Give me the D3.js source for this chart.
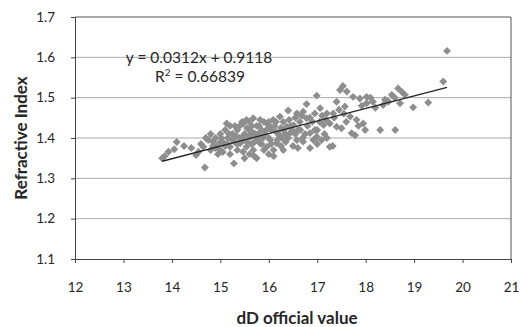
<!DOCTYPE html>
<html>
<head>
<meta charset="utf-8">
<script src="https://cdn.jsdelivr.net/npm/d3@7"></script>
<style>
  body { margin: 0; background: #fff; }
  text { font-family: Lato, "Open Sans", sans-serif; fill: #262626; }
</style>
</head>
<body>
<svg id="chart" width="520" height="327"></svg>
<script>
// dD official value (x) vs refractive index (y)
var xVals = [13.80,13.85,13.93,14.05,14.10,14.25,14.40,14.50,14.55,14.60,14.65,14.68,14.75,14.80,14.85,14.90,14.93,14.95,15.00,15.00,
  15.05,15.10,15.10,15.13,15.15,15.20,15.20,15.25,15.28,15.30,15.30,15.35,15.35,15.40,15.41,15.45,15.47,15.47,15.50,15.50,
  15.54,15.54,15.55,15.60,15.60,15.62,15.65,15.68,15.68,15.70,15.72,15.75,15.75,15.80,15.82,15.82,15.85,15.90,15.90,15.92,
  15.96,15.96,16.00,16.00,16.03,16.05,16.09,16.10,16.12,16.16,16.20,16.23,16.23,16.25,16.30,16.30,16.35,16.37,16.40,16.40,
  16.44,16.50,16.51,16.55,16.58,16.58,16.60,16.64,16.70,16.71,16.71,16.78,16.78,16.80,16.85,16.90,16.95,16.99,16.99,17.00,
  17.06,17.09,17.13,17.20,17.26,17.26,17.32,17.33,17.40,17.40,17.47,17.50,17.53,17.57,17.61,17.68,17.71,17.74,17.78,17.81,
  17.88,17.95,17.99,18.02,18.02,18.15,18.30,18.36,18.47,18.54,18.61,18.67,18.71,18.74,18.81,18.98,19.29,19.60,19.68,
  14.70,14.90,15.05,15.15,15.25,15.35,15.45,15.55,15.65,15.75,15.85,15.95,16.05,16.15,16.25,16.35,16.45,16.55,16.65,16.75,
  16.85,16.95,17.05,17.15,17.20,17.35,17.45,17.60,17.85,18.10,18.20,18.40,18.60,15.20,15.40,15.60,15.80,16.00,16.15,14.80,
  15.00,16.10,15.70,16.30,16.60,17.00,16.85,
  14.85,15.02,15.18,15.32,15.48,15.58,15.66,15.78,15.88,16.02,16.18,16.28,16.42,16.48,16.68,16.92,17.10,17.18,17.55,17.92];
var yVals = [1.350,1.355,1.366,1.372,1.390,1.380,1.375,1.358,1.366,1.385,1.378,1.327,1.395,1.370,1.390,1.400,1.380,1.360,1.370,1.410,
  1.390,1.380,1.420,1.436,1.400,1.378,1.360,1.410,1.337,1.390,1.430,1.370,1.420,1.400,1.387,1.440,1.366,1.436,1.350,1.410,
  1.378,1.445,1.390,1.420,1.360,1.403,1.430,1.370,1.449,1.390,1.410,1.350,1.430,1.400,1.387,1.445,1.420,1.370,1.440,1.410,
  1.378,1.436,1.360,1.400,1.395,1.420,1.445,1.370,1.430,1.387,1.410,1.403,1.453,1.380,1.420,1.440,1.390,1.428,1.468,1.400,
  1.412,1.380,1.432,1.450,1.395,1.461,1.420,1.440,1.400,1.391,1.465,1.449,1.484,1.430,1.412,1.440,1.461,1.403,1.505,1.420,
  1.474,1.395,1.432,1.461,1.378,1.436,1.380,1.461,1.490,1.428,1.519,1.424,1.529,1.478,1.515,1.453,1.412,1.502,1.407,1.445,
  1.498,1.436,1.420,1.502,1.486,1.490,1.420,1.482,1.490,1.507,1.420,1.523,1.486,1.515,1.507,1.476,1.488,1.540,1.616,
  1.400,1.375,1.365,1.385,1.395,1.385,1.400,1.425,1.385,1.395,1.385,1.420,1.385,1.415,1.425,1.410,1.430,1.410,1.420,1.410,
  1.450,1.420,1.440,1.410,1.400,1.450,1.470,1.440,1.430,1.500,1.475,1.495,1.500,1.430,1.430,1.440,1.430,1.440,1.440,1.410,
  1.390,1.355,1.355,1.370,1.375,1.385,1.375,
  1.380,1.400,1.410,1.405,1.395,1.405,1.415,1.410,1.400,1.430,1.395,1.400,1.445,1.420,1.455,1.395,1.455,1.445,1.460,1.480];
var xTicks = [12,13,14,15,16,17,18,19,20,21];
var yTicks = [1.1,1.2,1.3,1.4,1.5,1.6,1.7];
var trendSlope = 0.0312, trendIntercept = 0.9118;
var eqText = "y = 0.0312x + 0.9118";
var r2Text = "0.66839";

var svg = d3.select("#chart"),
  margin = {top: 17, right: 9, bottom: 68, left: 75},
  width = +svg.attr("width") - margin.left - margin.right,
  height = +svg.attr("height") - margin.top - margin.bottom;

var x = d3.scaleLinear().domain([12, 21]).range([0, width]);
var y = d3.scaleLinear().domain([1.1, 1.7]).range([height, 0]);

var g = svg.append("g")
  .attr("transform", "translate(" + margin.left + "," + margin.top + ")");

// horizontal gridlines
g.selectAll(".grid")
  .data(yTicks.slice(1, -1))
  .enter().append("line")
  .attr("x1", 0).attr("x2", width)
  .attr("y1", d => y(d)).attr("y2", d => y(d))
  .attr("stroke", "#aaa")
  .attr("stroke-width", 1);

// plot frame (top and right)
g.append("path")
  .attr("d", "M0," + y(1.7) + "H" + width + "V" + height)
  .attr("fill", "none")
  .attr("stroke", "#555")
  .attr("stroke-width", 1);

// points
g.selectAll(".pt")
  .data(xVals.map((v, i) => [v, yVals[i]]))
  .enter().append("path")
  .attr("class", "pt")
  .attr("d", d3.symbol(d3.symbolDiamond2, 40))
  .attr("transform", d => "translate(" + x(d[0]) + "," + y(d[1]) + ")")
  .attr("fill", "#8e8e8e");

// trendline
var xr = d3.extent(xVals);
g.append("line")
  .attr("x1", x(xr[0])).attr("y1", y(trendSlope * xr[0] + trendIntercept))
  .attr("x2", x(xr[1])).attr("y2", y(trendSlope * xr[1] + trendIntercept))
  .attr("stroke", "#222")
  .attr("stroke-width", 1.3);

// axes
var xAxis = g.append("g")
  .attr("transform", "translate(0," + height + ")")
  .call(d3.axisBottom(x).tickValues(xTicks).tickFormat(d3.format("d")).tickSize(4).tickPadding(19));
var yAxis = g.append("g")
  .call(d3.axisLeft(y).tickValues(yTicks).tickFormat(d3.format(".1f")).tickSize(4).tickPadding(16));
[xAxis, yAxis].forEach(a => {
  a.select(".domain").attr("stroke", "#444");
  a.selectAll(".tick line").attr("stroke", "#444");
  a.selectAll("text").style("font-size", "13.5px").attr("fill", "#262626")
    .style("font-family", "Lato, 'Open Sans', sans-serif");
});

// equation labels
g.append("text")
  .attr("x", 124).attr("y", 46)
  .attr("text-anchor", "middle")
  .style("font-size", "15.5px")
  .text(eqText);
var r2 = g.append("text")
  .attr("x", 125).attr("y", 65)
  .attr("text-anchor", "middle")
  .style("font-size", "15.5px");
r2.append("tspan").text("R");
r2.append("tspan").attr("dy", -6).style("font-size", "10px").text("2");
r2.append("tspan").attr("dy", 6).text(" = " + r2Text);

// axis titles
svg.append("text")
  .attr("x", margin.left + width / 2 + 4).attr("y", 324)
  .attr("text-anchor", "middle")
  .style("font-size", "17px").style("font-weight", "bold")
  .text("dD official value");
svg.append("text")
  .attr("transform", "translate(27," + (margin.top + height / 2) + ") rotate(-90)")
  .attr("text-anchor", "middle")
  .style("font-size", "17px").style("font-weight", "bold")
  .text("Refractive Index");
</script>
</body>
</html>
